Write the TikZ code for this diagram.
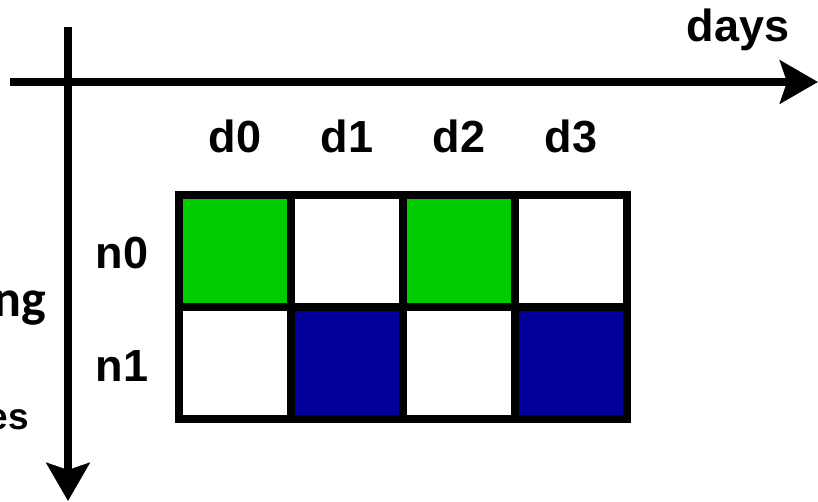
\documentclass[tikz,border=0pt]{standalone}
\usepackage{fontspec}
\setmainfont{Liberation Sans}
\newfontfamily\carlito{Carlito}
\usetikzlibrary{arrows.meta}
\definecolor{cellgreen}{RGB}{0,204,0}
\definecolor{cellblue}{RGB}{0,0,153}
\tikzset{
  axis/.style={line width=8pt,-{Stealth[length=38pt,width=43pt,inset=7pt]}},
  cell/.style={draw=black,line width=8pt,minimum size=112pt,inner sep=0pt},
  lbl/.style={font=\fontsize{45}{45}\selectfont\bfseries,anchor=base,inner sep=0pt},
}
\begin{document}
\begin{tikzpicture}[x=1pt,y=-1pt]
\useasboundingbox (0,0) rectangle (818,502);
% axes
\coordinate (hs) at (10,82);
\coordinate (he) at (818,82);
\coordinate (vs) at (68,27);
\coordinate (ve) at (68,501);
\draw[axis] (hs) -- (he);
\draw[axis] (vs) -- (ve);
% cells
\node[cell,fill=cellgreen] (c00) at (235,251) {};
\node[cell,fill=white]     (c10) at (347,251) {};
\node[cell,fill=cellgreen] (c20) at (459,251) {};
\node[cell,fill=white]     (c30) at (571,251) {};
\node[cell,fill=white]     (c01) at (235,363) {};
\node[cell,fill=cellblue]  (c11) at (347,363) {};
\node[cell,fill=white]     (c21) at (459,363) {};
\node[cell,fill=cellblue]  (c31) at (571,363) {};
% labels
\node[lbl] (days) at (738,42) {days};
\node[lbl] (d0) at (235,153) {d0};
\node[lbl] (d1) at (347,153) {d1};
\node[lbl] (d2) at (459,153) {d2};
\node[lbl] (d3) at (571,153) {d3};
\node[lbl] (n0) at (122,269) {n0};
\node[lbl] (n1) at (122,381) {n1};
\node[font=\fontsize{52}{52}\selectfont\carlito\bfseries,anchor=base east,inner sep=0pt] (ng) at (46,316) {ng};
\node[font=\fontsize{37}{37}\selectfont\bfseries,anchor=base east,inner sep=0pt] (es) at (29,429) {es};
\end{tikzpicture}
\end{document}
